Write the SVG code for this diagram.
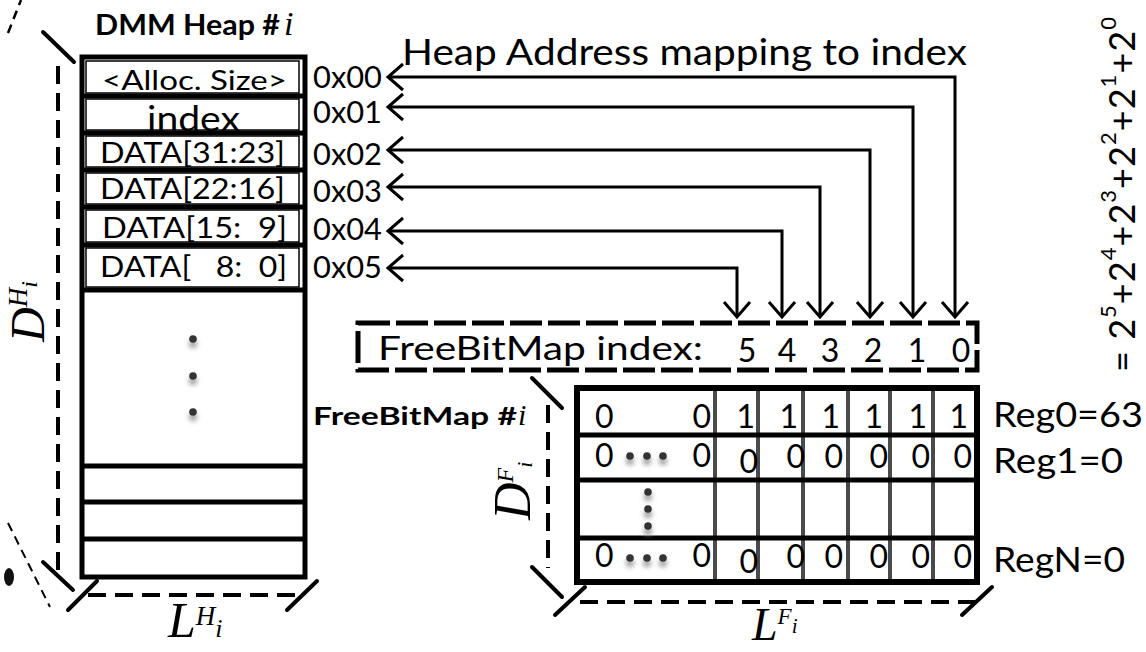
<svg xmlns="http://www.w3.org/2000/svg" width="1146" height="652" viewBox="0 0 1146 652">
  <style>
    .sans { font-family: Lato, "Liberation Sans", sans-serif; fill: #000; }
    .bold { font-family: Lato, "Liberation Sans", sans-serif; font-weight: bold; fill: #000; }
    .math { font-family: "Liberation Serif", "DejaVu Serif", serif; font-style: italic; fill: #000; }
    .thick { fill: none; stroke: #000; stroke-width: 5; }
    .thin { fill: none; stroke: #000; stroke-width: 1.5; }
    .sep { stroke: #000; stroke-width: 5; }
    .col { stroke: #4a4a4a; stroke-width: 4; }
    .dash { fill: none; stroke: #000; stroke-width: 4; stroke-dasharray: 18 9; }
    .tick { stroke: #000; stroke-width: 4; stroke-linecap: round; }
    .conn { fill: none; stroke: #000; stroke-width: 3; marker-start: url(#head); marker-end: url(#head); }
    .dot { fill: #333; }
  </style>
  <defs>
    <marker id="head" markerUnits="userSpaceOnUse" markerWidth="40" markerHeight="40" viewBox="-20 -20 40 40" refX="0" refY="0" orient="auto-start-reverse">
      <path d="M-15,-13 L0,0 L-15,13" fill="none" stroke="#000" stroke-width="3"/>
    </marker>
    <filter id="soft" x="-2" y="-2" width="5" height="5">
      <feGaussianBlur stdDeviation="2.5"/>
    </filter>
    <g id="bullet">
      <circle cx="0" cy="5" r="4" fill="#999" filter="url(#soft)"/>
      <circle cx="0" cy="0" r="3.8" class="dot"/>
    </g>
  </defs>

  <!-- stray fragments at the left edge -->
  <g id="edge-marks">
    <line x1="8" y1="33" x2="21" y2="0" stroke="#000" stroke-width="2.5" stroke-dasharray="9 6"/>
    <line x1="8" y1="523" x2="50" y2="607" stroke="#000" stroke-width="2" stroke-dasharray="9 6"/>
    <ellipse cx="9" cy="577" rx="5" ry="9" fill="#111"/>
  </g>

  <!-- heap memory block -->
  <g id="heap">
    <text x="95" y="35" class="bold" font-size="29" textLength="185" lengthAdjust="spacingAndGlyphs">DMM Heap #</text>
    <text x="284" y="35" class="math" font-size="34">i</text>
    <rect x="82" y="57" width="223" height="520" class="thick"/>
    <rect x="86" y="61" width="213" height="32" class="thin"/>
    <rect x="86" y="99" width="213" height="31" class="thin"/>
    <rect x="86" y="136" width="213" height="31" class="thin"/>
    <rect x="86" y="173" width="213" height="31" class="thin"/>
    <rect x="86" y="210" width="213" height="32" class="thin"/>
    <rect x="86" y="248" width="213" height="39" class="thin"/>
    <line x1="82" y1="96" x2="305" y2="96" class="sep"/>
    <line x1="82" y1="133" x2="305" y2="133" class="sep"/>
    <line x1="82" y1="170" x2="305" y2="170" class="sep"/>
    <line x1="82" y1="207" x2="305" y2="207" class="sep"/>
    <line x1="82" y1="245" x2="305" y2="245" class="sep"/>
    <line x1="82" y1="290" x2="305" y2="290" class="sep"/>
    <line x1="82" y1="466" x2="305" y2="466" class="sep"/>
    <line x1="82" y1="502" x2="305" y2="502" class="sep"/>
    <line x1="82" y1="539" x2="305" y2="539" class="sep"/>
    <text x="102" y="90" class="sans" font-size="27" textLength="185" lengthAdjust="spacingAndGlyphs">&lt;Alloc. Size&gt;</text>
    <text x="147" y="131" class="sans" font-size="34" textLength="93" lengthAdjust="spacingAndGlyphs">index</text>
    <text x="100" y="163" class="sans" font-size="28" textLength="185" lengthAdjust="spacingAndGlyphs">DATA[31:23]</text>
    <text x="100" y="199" class="sans" font-size="28" textLength="185" lengthAdjust="spacingAndGlyphs">DATA[22:16]</text>
    <text x="102" y="238" class="sans" font-size="28" textLength="185" lengthAdjust="spacingAndGlyphs" xml:space="preserve">DATA[15:  9]</text>
    <text x="100" y="277" class="sans" font-size="28" textLength="187" lengthAdjust="spacingAndGlyphs" xml:space="preserve">DATA[   8:  0]</text>
    <use href="#bullet" x="193" y="339"/>
    <use href="#bullet" x="193" y="376"/>
    <use href="#bullet" x="193" y="412"/>
  </g>

  <!-- heap dimension markers -->
  <g id="heap-dims">
    <line x1="58" y1="66" x2="58" y2="572" class="dash"/>
    <line x1="43" y1="32" x2="74" y2="62" class="tick"/>
    <line x1="43" y1="562" x2="73" y2="590" class="tick"/>
    <line x1="88" y1="595" x2="303" y2="595" class="dash" stroke-dasharray="19 8"/>
    <line x1="68" y1="610" x2="97" y2="581" class="tick"/>
    <line x1="287" y1="610" x2="317" y2="581" class="tick"/>
    <text transform="translate(44,342) rotate(-90)" class="math" font-size="48">D<tspan font-size="27" dy="-17">H</tspan><tspan font-size="24" dy="10">i</tspan></text>
    <text x="168" y="637" class="math" font-size="50">L<tspan font-size="27" dy="-12">H</tspan><tspan font-size="26" dy="12">i</tspan></text>
  </g>

  <!-- address labels -->
  <g id="addresses">
    <text x="313" y="88" class="sans" font-size="30" textLength="69" lengthAdjust="spacingAndGlyphs">0x00</text>
    <text x="313" y="123" class="sans" font-size="30" textLength="69" lengthAdjust="spacingAndGlyphs">0x01</text>
    <text x="313" y="165" class="sans" font-size="30" textLength="69" lengthAdjust="spacingAndGlyphs">0x02</text>
    <text x="313" y="202" class="sans" font-size="30" textLength="69" lengthAdjust="spacingAndGlyphs">0x03</text>
    <text x="313" y="240" class="sans" font-size="30" textLength="69" lengthAdjust="spacingAndGlyphs">0x04</text>
    <text x="313" y="278" class="sans" font-size="30" textLength="69" lengthAdjust="spacingAndGlyphs">0x05</text>
  </g>

  <g id="mapping-title">
    <text x="402" y="65" class="sans" font-size="37" textLength="565" lengthAdjust="spacingAndGlyphs">Heap Address mapping to index</text>
  </g>

  <!-- address-to-index connectors -->
  <g id="connectors">
    <path d="M388,77 H955 V317" class="conn"/>
    <path d="M388,107 H913 V317" class="conn"/>
    <path d="M388,150 H870 V317" class="conn"/>
    <path d="M388,187 H820 V317" class="conn"/>
    <path d="M388,231 H782 V317" class="conn"/>
    <path d="M388,268 H737 V317" class="conn"/>
  </g>

  <!-- bit index legend -->
  <g id="bit-index">
    <rect x="358" y="323" width="619" height="47" fill="none" stroke="#000" stroke-width="5" stroke-dasharray="32 6"/>
    <text x="378" y="360" class="sans" font-size="32" textLength="325" lengthAdjust="spacingAndGlyphs">FreeBitMap index:</text>
    <g class="sans" font-size="32" text-anchor="middle">
      <text x="747" y="362">5</text>
      <text x="787" y="362">4</text>
      <text x="830" y="362">3</text>
      <text x="873" y="362">2</text>
      <text x="917" y="362">1</text>
      <text x="961" y="362">0</text>
    </g>
  </g>

  <!-- free bitmap registers -->
  <g id="freebitmap">
    <text x="313" y="425" class="bold" font-size="25" textLength="204" lengthAdjust="spacingAndGlyphs">FreeBitMap #</text>
    <text x="518" y="425" class="math" font-size="30">i</text>
    <line x1="715" y1="388" x2="715" y2="582" class="col"/>
    <line x1="758" y1="388" x2="758" y2="582" class="col"/>
    <line x1="803" y1="388" x2="803" y2="582" class="col"/>
    <line x1="848" y1="388" x2="848" y2="582" class="col"/>
    <line x1="890" y1="388" x2="890" y2="582" class="col"/>
    <line x1="933" y1="388" x2="933" y2="582" class="col"/>
    <line x1="577" y1="435" x2="977" y2="435" class="sep"/>
    <line x1="577" y1="480" x2="977" y2="480" class="sep"/>
    <line x1="577" y1="538" x2="977" y2="538" class="sep"/>
    <rect x="577" y="388" width="400" height="194" fill="none" stroke="#000" stroke-width="6"/>
    <g class="sans" font-size="32">
      <text x="595" y="428">0</text>
      <text x="595" y="467">0</text>
      <text x="595" y="567">0</text>
    </g>
    <g class="sans" font-size="32" text-anchor="end">
      <text x="711" y="428">0</text>
      <text x="755" y="428">1</text>
      <text x="798" y="428">1</text>
      <text x="840" y="428">1</text>
      <text x="883" y="428">1</text>
      <text x="927" y="428">1</text>
      <text x="968" y="428">1</text>
      <text x="711" y="467">0</text>
      <text x="758" y="473">0</text>
      <text x="805" y="468">0</text>
      <text x="843" y="468">0</text>
      <text x="888" y="468">0</text>
      <text x="930" y="468">0</text>
      <text x="972" y="468">0</text>
      <text x="711" y="567">0</text>
      <text x="758" y="573">0</text>
      <text x="805" y="568">0</text>
      <text x="843" y="568">0</text>
      <text x="888" y="568">0</text>
      <text x="930" y="568">0</text>
      <text x="972" y="568">0</text>
    </g>
    <use href="#bullet" x="630" y="456"/>
    <use href="#bullet" x="647" y="456"/>
    <use href="#bullet" x="663" y="456"/>
    <use href="#bullet" x="630" y="558"/>
    <use href="#bullet" x="647" y="558"/>
    <use href="#bullet" x="663" y="558"/>
    <use href="#bullet" x="648" y="492"/>
    <use href="#bullet" x="648" y="509"/>
    <use href="#bullet" x="648" y="526"/>
    <text x="993" y="427" class="sans" font-size="35" textLength="150" lengthAdjust="spacingAndGlyphs">Reg0=63</text>
    <text x="993" y="473" class="sans" font-size="35" textLength="130" lengthAdjust="spacingAndGlyphs">Reg1=0</text>
    <text x="993" y="572" class="sans" font-size="35" textLength="132" lengthAdjust="spacingAndGlyphs">RegN=0</text>
  </g>

  <!-- bitmap dimension markers -->
  <g id="bitmap-dims">
    <line x1="548" y1="405" x2="548" y2="568" class="dash" stroke-dasharray="17 9"/>
    <line x1="532" y1="378" x2="562" y2="408" class="tick"/>
    <line x1="532" y1="567" x2="562" y2="597" class="tick"/>
    <line x1="580" y1="602" x2="975" y2="602" class="dash" stroke-dasharray="17 8"/>
    <line x1="555" y1="615" x2="585" y2="587" class="tick"/>
    <line x1="962" y1="615" x2="992" y2="587" class="tick"/>
    <text transform="translate(530,520) rotate(-90)" class="math" font-size="52">D<tspan font-size="24" dy="-17">F</tspan><tspan font-size="22" dy="19">i</tspan></text>
    <text x="752" y="640" class="math" font-size="46">L<tspan font-size="23" dy="-16">F</tspan><tspan font-size="21" dy="9">i</tspan></text>
  </g>

  <!-- register value expansion -->
  <g id="sum">
    <text transform="translate(1135,372) rotate(-90)" class="sans" font-size="36" textLength="355">= 2<tspan font-size="22" dy="-19">5</tspan><tspan dy="19">+2</tspan><tspan font-size="22" dy="-19">4</tspan><tspan dy="19">+2</tspan><tspan font-size="22" dy="-19">3</tspan><tspan dy="19">+2</tspan><tspan font-size="22" dy="-19">2</tspan><tspan dy="19">+2</tspan><tspan font-size="22" dy="-19">1</tspan><tspan dy="19">+2</tspan><tspan font-size="22" dy="-19">0</tspan></text>
  </g>
</svg>
